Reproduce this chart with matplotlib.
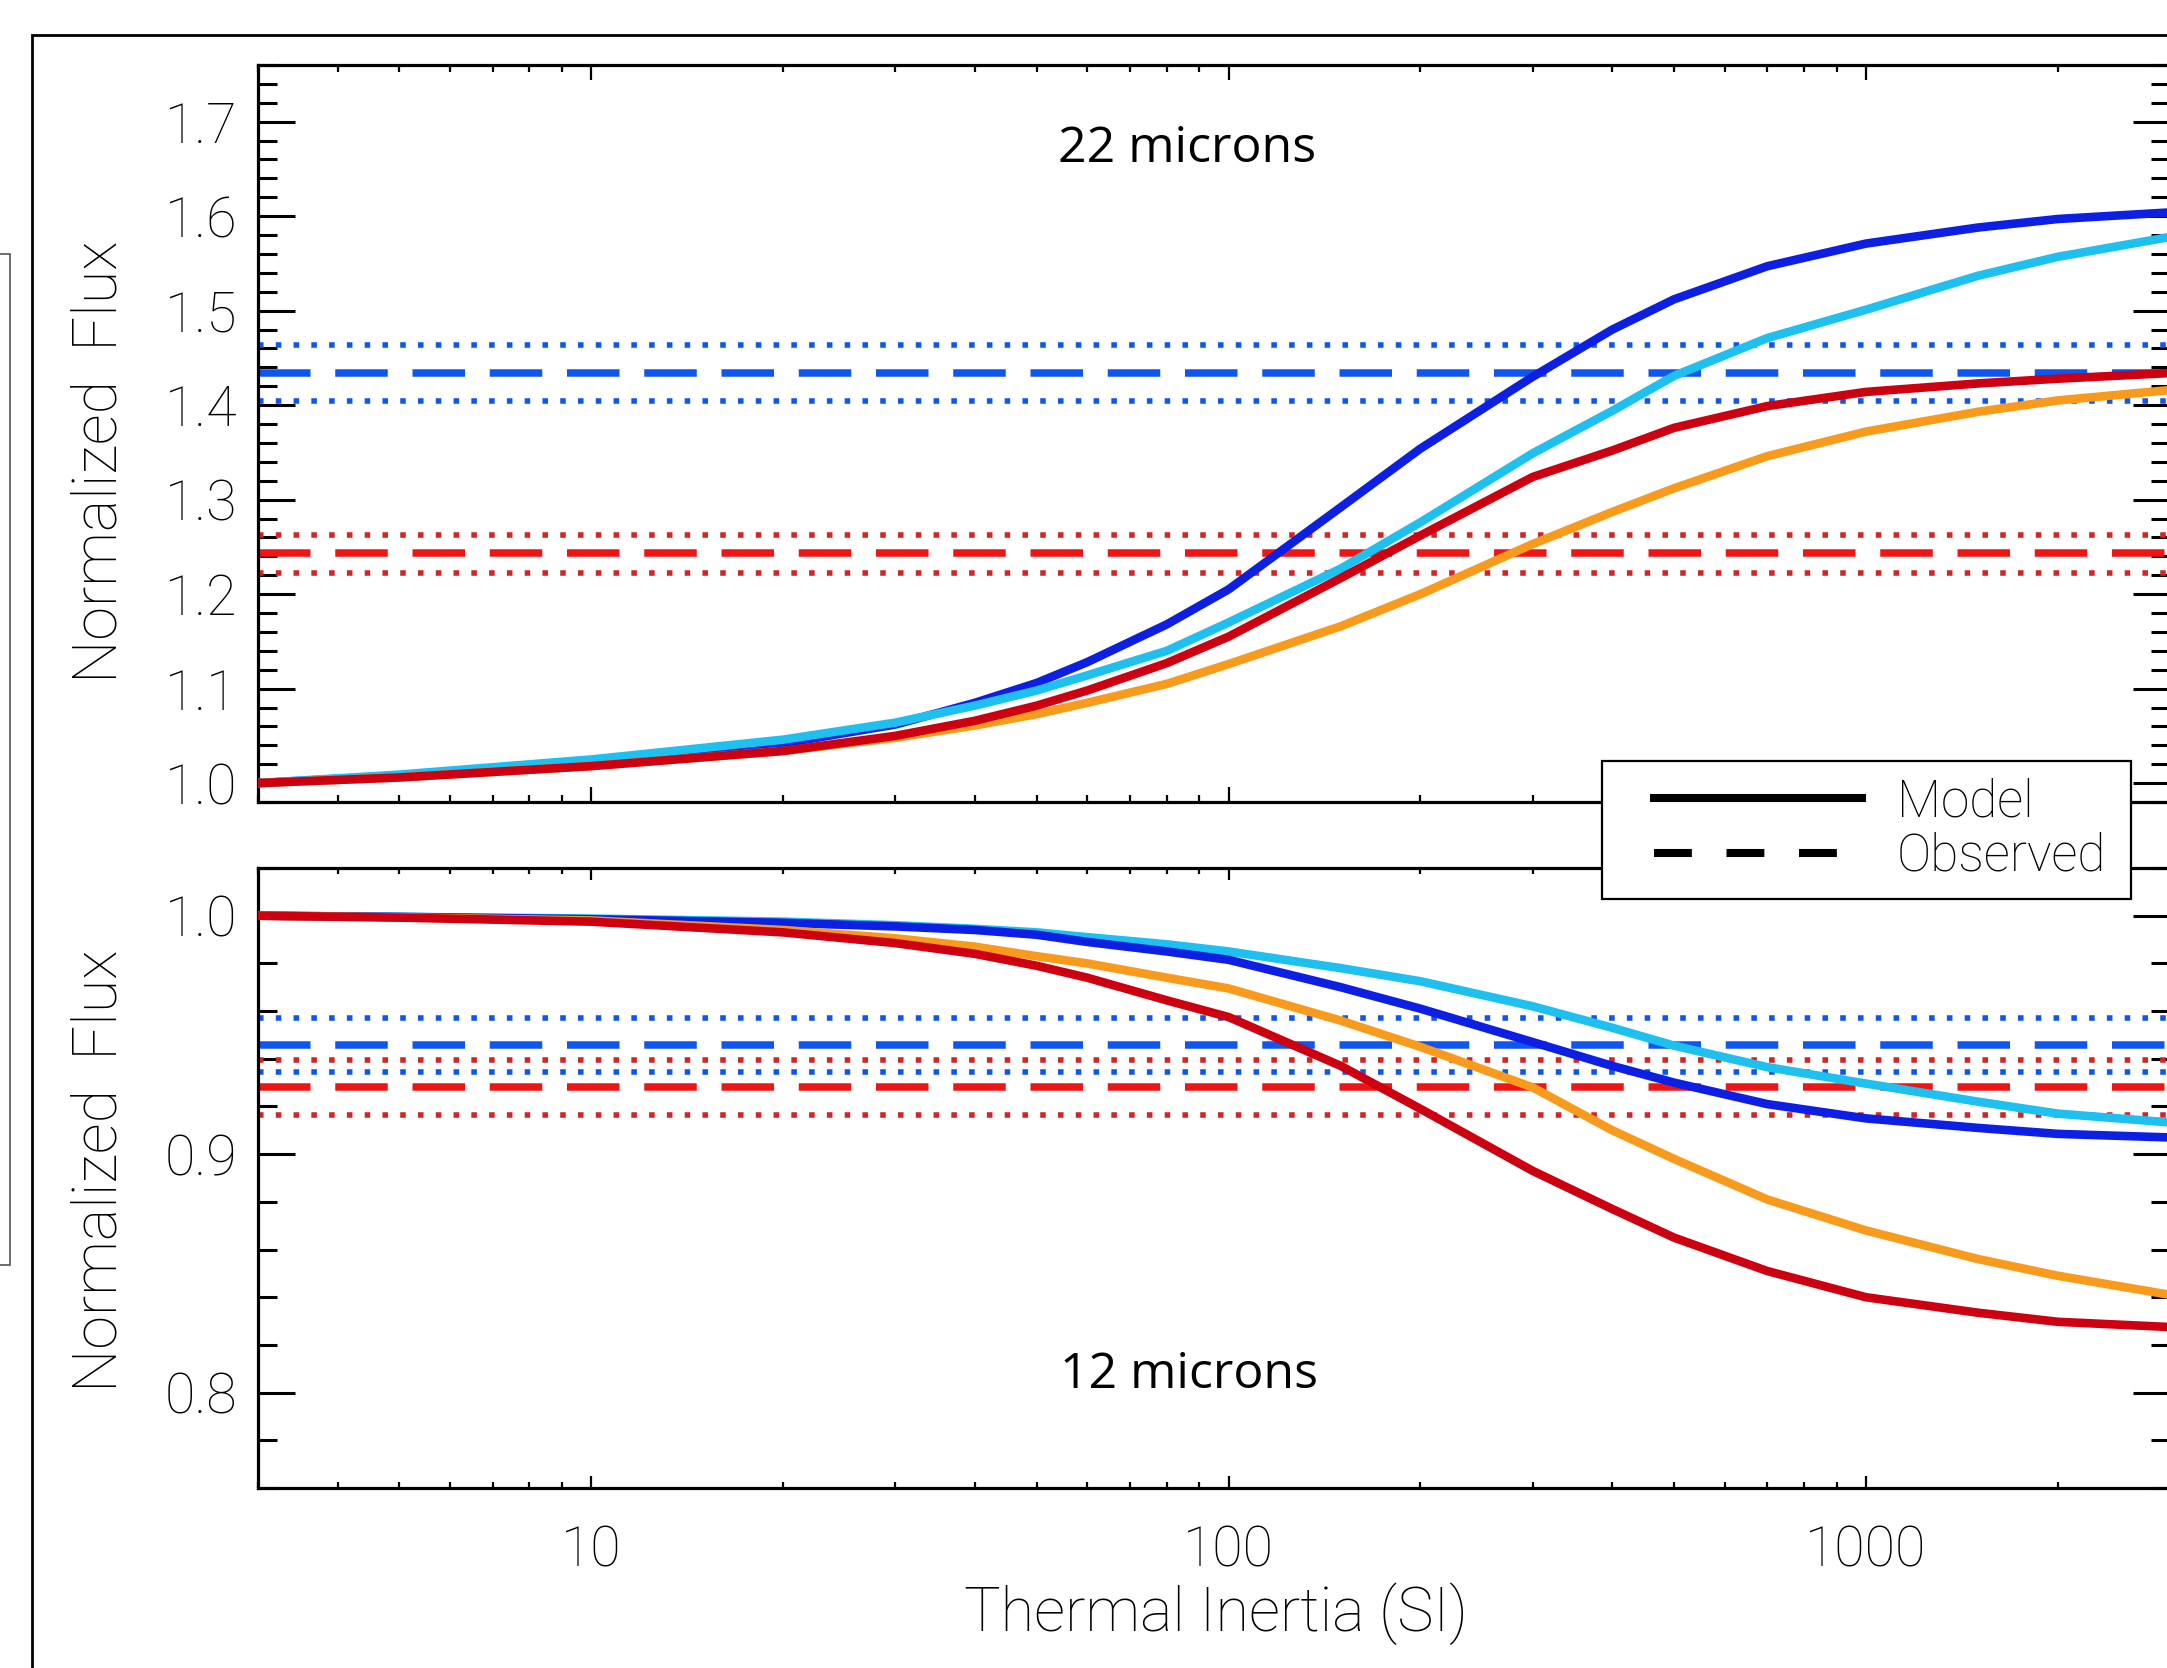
import matplotlib
matplotlib.use("Agg")
import matplotlib.pyplot as plt
from matplotlib.lines import Line2D
from matplotlib.patches import Rectangle
from matplotlib.ticker import MultipleLocator, FormatStrFormatter, NullFormatter

# thermal inertia grid (SI)
inertia = [3, 5, 10, 20, 30, 40, 50, 60, 80, 100, 150, 200, 300, 400, 500,
           700, 1000, 1500, 2000, 3000]

# 22 micron model curves
flux22_blue = [1.000, 1.008, 1.022, 1.042, 1.062, 1.085, 1.106, 1.128, 1.168, 1.205,
               1.292, 1.354, 1.430, 1.480, 1.512, 1.547, 1.571, 1.588, 1.597, 1.604]
flux22_cyan = [1.000, 1.009, 1.025, 1.046, 1.064, 1.082, 1.098, 1.114, 1.140, 1.170,
               1.227, 1.276, 1.349, 1.394, 1.431, 1.471, 1.501, 1.537, 1.557, 1.578]
flux22_red = [1.000, 1.006, 1.018, 1.034, 1.050, 1.066, 1.082, 1.098, 1.127, 1.155,
              1.217, 1.262, 1.324, 1.352, 1.376, 1.399, 1.414, 1.423, 1.428, 1.434]
flux22_orange = [1.000, 1.006, 1.018, 1.034, 1.048, 1.061, 1.073, 1.085, 1.105, 1.126,
                 1.166, 1.200, 1.253, 1.287, 1.312, 1.346, 1.372, 1.393, 1.405, 1.416]

# 12 micron model curves
flux12_blue = [1.000, 0.9995, 0.9985, 0.997, 0.9955, 0.994, 0.992, 0.989, 0.985, 0.9815,
               0.970, 0.961, 0.947, 0.937, 0.930, 0.921, 0.915, 0.911, 0.9085, 0.907]
flux12_cyan = [1.000, 0.9995, 0.9988, 0.9975, 0.996, 0.9945, 0.993, 0.991, 0.988, 0.985,
               0.978, 0.9725, 0.962, 0.953, 0.9455, 0.9365, 0.9296, 0.922, 0.917, 0.9133]
flux12_orange = [1.000, 0.9993, 0.998, 0.994, 0.9905, 0.987, 0.983, 0.980, 0.974, 0.9695,
                 0.956, 0.945, 0.928, 0.910, 0.898, 0.881, 0.868, 0.856, 0.849, 0.841]
flux12_red = [1.000, 0.9992, 0.9975, 0.993, 0.9885, 0.984, 0.979, 0.974, 0.9645, 0.9575,
              0.937, 0.919, 0.893, 0.877, 0.865, 0.851, 0.840, 0.8335, 0.8297, 0.8275]

# observed values with their uncertainty bands
obs22_blue, obs22_blue_band = 1.4345, (1.4041, 1.4641)
obs22_red, obs22_red_band = 1.2430, (1.2226, 1.2628)
obs12_blue, obs12_blue_band = 0.9458, (0.9346, 0.9570)
obs12_red, obs12_red_band = 0.9281, (0.9166, 0.9395)

x_ticks = [10, 100, 1000]
x_tick_labels = ["10", "100", "1000"]

C_BLUE = "#0d1fe3"
C_CYAN = "#1ec0f0"
C_RED = "#cc0010"
C_ORANGE = "#f89a1c"
C_OBS_BLUE = "#0f55ef"
C_OBS_RED = "#f01515"
C_DOT_RED = "#d42424"

W, H = 2167, 1668

fig = plt.figure(figsize=(W / 100, H / 100), dpi=100)
plt.rcParams["font.family"] = ["Roboto", "DejaVu Sans"]
plt.rcParams["font.weight"] = "light"


def px_box(left, top, right, bottom):
    return [left / W, 1 - bottom / H, (right - left) / W, (bottom - top) / H]


ax1 = fig.add_axes(px_box(258, 65, 2170, 802))
ax2 = fig.add_axes(px_box(258, 868, 2170, 1488))


def draw_obs(ax, value, band, color, dot_color):
    ax.axhline(value, color=color, lw=5.4, dashes=(7.0, 3.3), dash_capstyle="butt", zorder=2)
    for b in band:
        ax.axhline(b, color=dot_color, lw=4.0, dashes=(1.0, 2.2), dash_capstyle="butt", zorder=2)


draw_obs(ax1, obs22_blue, obs22_blue_band, C_OBS_BLUE, C_OBS_BLUE)
draw_obs(ax1, obs22_red, obs22_red_band, C_OBS_RED, C_DOT_RED)
draw_obs(ax2, obs12_blue, obs12_blue_band, C_OBS_BLUE, C_OBS_BLUE)
draw_obs(ax2, obs12_red, obs12_red_band, C_OBS_RED, C_DOT_RED)

lw_model = 6.2
ax1.plot(inertia, flux22_blue, color=C_BLUE, lw=lw_model, zorder=3)
ax1.plot(inertia, flux22_cyan, color=C_CYAN, lw=lw_model, zorder=3)
ax1.plot(inertia, flux22_orange, color=C_ORANGE, lw=lw_model, zorder=3)
ax1.plot(inertia, flux22_red, color=C_RED, lw=lw_model, zorder=3)

ax2.plot(inertia, flux12_cyan, color=C_CYAN, lw=lw_model, zorder=3)
ax2.plot(inertia, flux12_blue, color=C_BLUE, lw=lw_model, zorder=3)
ax2.plot(inertia, flux12_orange, color=C_ORANGE, lw=lw_model, zorder=3)
ax2.plot(inertia, flux12_red, color=C_RED, lw=lw_model, zorder=3)

for ax, ylim, xlen in ((ax1, (0.98, 1.76), 10.6), (ax2, (0.76, 1.02), 8.9)):
    ax.set_xscale("log")
    ax.set_xlim(3, 3000)
    ax.set_ylim(*ylim)
    ax.yaxis.set_major_locator(MultipleLocator(0.1))
    ax.yaxis.set_minor_locator(MultipleLocator(0.02))
    ax.yaxis.set_major_formatter(FormatStrFormatter("%.1f"))
    ax.xaxis.set_minor_formatter(NullFormatter())
    for s in ax.spines.values():
        s.set_linewidth(2.3)
    ax.tick_params(which="both", direction="in", top=True, right=True)
    ax.tick_params(axis="y", which="major", length=26.6, width=2.2, pad=15, labelsize=40)
    ax.tick_params(axis="y", which="minor", length=13.7, width=2.2)
    ax.tick_params(axis="x", which="major", length=xlen, width=1.6, labelsize=40, pad=26)
    ax.tick_params(axis="x", which="minor", length=xlen / 2, width=1.6)

ax2.set_xticks(x_ticks, labels=x_tick_labels)
ax2.xaxis.set_minor_formatter(NullFormatter())
ax1.set_xticks(x_ticks)
ax1.xaxis.set_minor_formatter(NullFormatter())
ax1.tick_params(axis="x", labelbottom=False)

label_font = dict(fontsize=44, fontweight="light")
fig.text(100 / W, 1 - 462 / H, "Normalized  Flux", rotation=90, ha="center", va="center", **label_font)
fig.text(100 / W, 1 - 1171 / H, "Normalized  Flux", rotation=90, ha="center", va="center", **label_font)
fig.text(1216 / W, 1 - 1614 / H, "Thermal Inertia (SI)", ha="center", va="center", **label_font)

title_font = dict(fontsize=36, family=["Open Sans", "DejaVu Sans"], fontweight="normal")
fig.text(1187 / W, 1 - 149 / H, "22 microns", ha="center", va="center", **title_font)
fig.text(1189 / W, 1 - 1375 / H, "12 microns", ha="center", va="center", **title_font)

# legend box bridging the two panels
fig.add_artist(Rectangle((1602 / W, 1 - 899 / H), (2131 - 1602) / W, (899 - 761) / H,
                         transform=fig.transFigure, facecolor="white", edgecolor="black",
                         lw=1.6, zorder=4))
handles = [Line2D([], [], color="black", lw=5.8),
           Line2D([], [], color="black", lw=5.8, dashes=(4.7, 4.3), dash_capstyle="butt")]
fig.legend(handles, ["Model", "Observed"], loc="center left",
           bbox_to_anchor=(1654 / W, 1 - 829.5 / H), frameon=False, fontsize=37,
           handlelength=4.05, handletextpad=0.68, labelspacing=0.08, borderpad=0,
           borderaxespad=0).set_zorder(6)

# outer frame and the neighbouring panel edge
fig.add_artist(Rectangle((32 / W, -0.05), 1.2, 1 - 35 / H + 0.05, transform=fig.transFigure,
                         facecolor="none", edgecolor="black", lw=2.0, zorder=7))
fig.add_artist(Rectangle((-10 / W, 1 - 1265 / H), 20 / W, (1265 - 254) / H,
                         transform=fig.transFigure, facecolor="none", edgecolor="#555555",
                         lw=1.2, zorder=7))

fig.savefig("out.png", dpi=100, facecolor="white")
